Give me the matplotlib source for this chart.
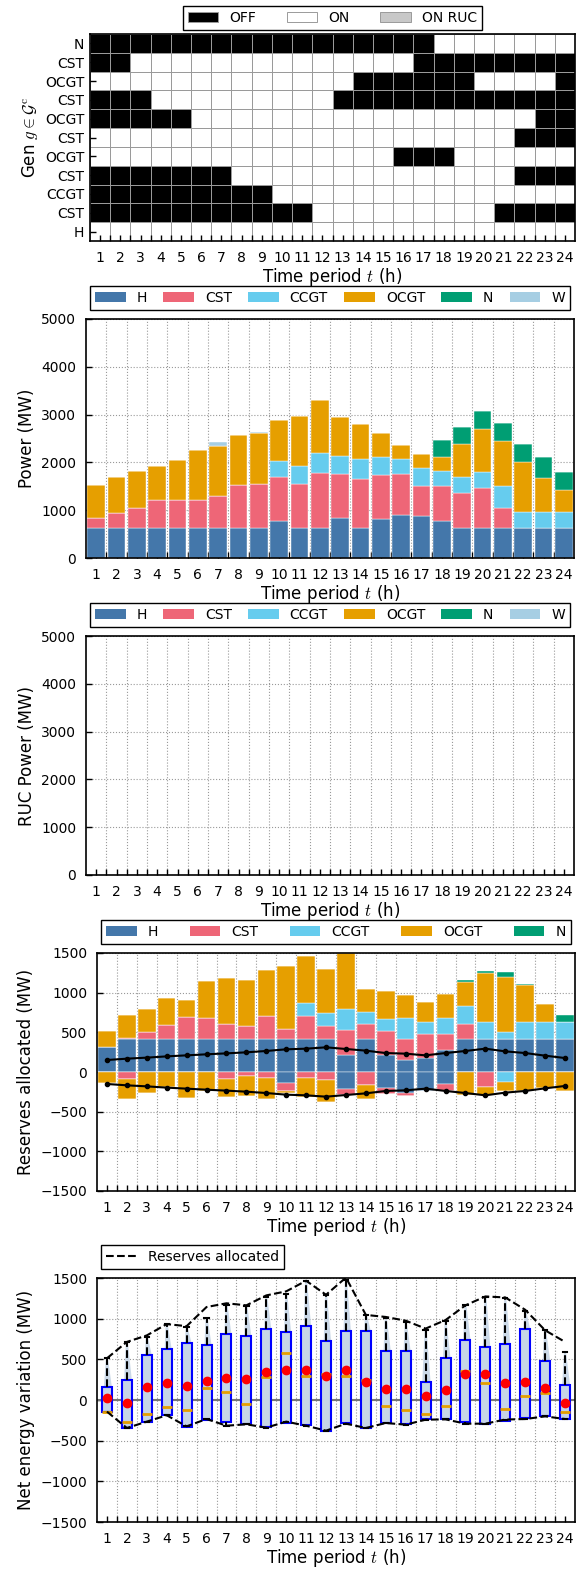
import numpy as np
import matplotlib
matplotlib.use('Agg')
import matplotlib.pyplot as plt
from matplotlib.colors import ListedColormap
from matplotlib.patches import Patch, Polygon
from matplotlib.lines import Line2D

plt.rcParams['font.family'] = ['DejaVu Sans']
plt.rcParams['mathtext.fontset'] = 'cm'
plt.rcParams['font.size'] = 10

periods = list(range(1, 25))

# ---------------- unit commitment status (1 = ON, 0 = OFF, 2 = ON RUC) ----------------
gen_labels = ['N', 'CST', 'OCGT', 'CST', 'OCGT', 'CST', 'OCGT', 'CST', 'CCGT', 'CST', 'H']
gen_status = [
    "000000000000000001111111",
    "001111111111111100000000",
    "111111111111100000011110",
    "000111111111000000000000",
    "000001111111111111111100",
    "111111111111111111111000",
    "111111111111111000111111",
    "000000011111111111111000",
    "000000000111111111111111",
    "000000000001111111110000",
    "111111111111111111111111",
]
status_labels = ['OFF', 'ON', 'ON RUC']

# ---------------- dispatch (MW) ----------------
techs = ['H', 'CST', 'CCGT', 'OCGT', 'N', 'W']
tech_colors = ['#4477AA', '#EE6677', '#66CCEE', '#E69F00', '#009E73', '#A6CEE3']
p_H = [630, 630, 630, 630, 630, 630, 630, 630, 630, 776, 630, 630, 839, 630, 825, 895, 874, 776, 630, 630, 630, 630, 630, 630]
p_CST = [216, 314, 419, 587, 573, 587, 664, 887, 922, 923, 922, 1139, 923, 1020, 902, 853, 623, 721, 734, 832, 426, 0, 0, 0]
p_CCGT = [0, 0, 0, 0, 0, 0, 0, 0, 0, 322, 378, 427, 378, 427, 378, 322, 391, 328, 328, 335, 454, 328, 328, 328]
p_OCGT = [671, 755, 762, 699, 846, 1035, 1041, 1058, 1061, 861, 1042, 1110, 818, 722, 520, 296, 280, 287, 685, 911, 946, 1042, 720, 455]
p_N = [0, 0, 0, 0, 0, 0, 0, 0, 0, 0, 0, 0, 0, 0, 0, 0, 0, 355, 366, 368, 363, 390, 434, 391]
p_W = [0, 0, 0, 0, 0, 0, 90, 0, 32, 0, 0, 0, 0, 0, 0, 0, 0, 0, 0, 0, 0, 0, 0, 0]

# ---------------- reserves allocated (MW) ----------------
ru_H = [311, 412, 412, 412, 412, 412, 412, 412, 412, 412, 412, 412, 210, 412, 218, 151, 176, 277, 412, 412, 412, 412, 412, 412]
ru_CST = [0, 17, 92, 180, 281, 269, 197, 172, 294, 126, 294, 172, 319, 189, 299, 261, 299, 202, 197, 0, 0, 0, 0, 0]
ru_CCGT = [0, 0, 0, 0, 0, 0, 0, 0, 0, 0, 160, 164, 265, 155, 155, 273, 155, 206, 219, 218, 92, 218, 218, 218]
ru_OCGT = [202, 285, 290, 341, 215, 462, 580, 580, 580, 798, 600, 546, 711, 290, 349, 290, 248, 298, 306, 618, 693, 467, 227, 0]
ru_N = [0, 0, 0, 0, 0, 0, 0, 0, 0, 0, 0, 0, 0, 0, 0, 0, 0, 0, 30, 25, 64, 12, 0, 84]

rd_H = [0, 0, 0, 0, 0, 0, 0, 0, 0, -143, 0, 0, -209, 0, -201, -266, -242, -152, 0, 0, 0, 0, 0, 0]
rd_CST = [0, -92, 0, 0, 0, 0, -84, -50, -80, -99, -80, -97, -82, -160, -82, -37, 0, -86, 0, -195, 0, 0, 0, 0]
rd_CCGT = [0, 0, 0, 0, 0, 0, 0, 0, 0, 0, 0, 0, 0, 0, 0, 0, 0, 0, 0, 0, -120, 0, 0, 0]
rd_OCGT = [-143, -252, -266, -188, -324, -234, -232, -249, -260, -24, -236, -280, 0, -184, 0, 0, 0, 0, -291, -96, -120, -234, -201, -234]
rd_N = [0] * 24

res_req_up = [151, 168, 181, 197, 210, 223, 235, 248, 265, 286, 294, 311, 290, 269, 239, 231, 210, 239, 265, 294, 260, 239, 206, 176]
res_req_dn = [-v for v in res_req_up]

# ---------------- net energy variation statistics (MW) ----------------
nev_q1 = [-148, -344, -275, -187, -328, -242, -266, -295, -334, -278, -313, -383, -279, -344, -279, -299, -232, -232, -266, -289, -258, -227, -195, -236]
nev_q3 = [155, 245, 553, 627, 697, 680, 812, 786, 878, 831, 913, 730, 843, 843, 606, 602, 218, 512, 741, 647, 692, 871, 484, 190]
nev_med = [-145, -270, -166, -86, -123, 144, 95, -49, 284, 574, 300, 324, 296, 251, -74, -119, -172, -78, 353, 210, -115, 49, 92, -148]
nev_mean = [20, -33, 164, 209, 166, 232, 270, 254, 348, 371, 363, 298, 373, 227, 137, 133, 55, 120, 316, 320, 214, 227, 149, -40]
nev_whishi = [512, 708, 778, 929, 900, 1010, 1173, 1153, 1267, 1308, 1459, 1296, 1480, 1051, 1014, 961, 863, 969, 1165, 1267, 1251, 1092, 859, 586]

# =========================================================================
W_PX, H_PX = 582, 1575
fig = plt.figure(figsize=(W_PX / 100, H_PX / 100), dpi=100)

LABEL_FS = 12


def px_axes(l, r, t, b):
    return fig.add_axes([l / W_PX, 1 - b / H_PX, (r - l) / W_PX, (b - t) / H_PX])


def style_axes(ax, grid=True):
    ax.tick_params(which='both', direction='in', top=False, right=False, labelsize=10, pad=7)
    ax.tick_params(which='major', length=4, width=1)
    ax.tick_params(which='minor', length=4, width=1)
    for s in ax.spines.values():
        s.set_linewidth(1.2)
    ax.set_xticks(periods)
    ax.set_xticks(np.arange(1.5, 24.5, 1.0), minor=True)
    ax.set_xlim(0.5, 24.5)
    if grid:
        ax.grid(which='major', axis='y', linestyle=':', color='#999999', linewidth=0.8)
        ax.grid(which='minor', axis='x', linestyle=':', color='#999999', linewidth=0.8)
        ax.set_axisbelow(True)
    ax.set_xlabel('Time period $t$ (h)', fontsize=LABEL_FS, labelpad=1)


leg_kw = dict(frameon=True, fancybox=False, edgecolor='black', framealpha=1, fontsize=10,
              borderaxespad=0.3, handlelength=2.2, handleheight=0.75, borderpad=0.35)

# ---------------- Panel 1: heatmap ----------------
ax1 = px_axes(90, 575, 34, 241)
Z = np.array([[int(c) for c in row] for row in gen_status])
cmap = ListedColormap(['black', 'white', '#c8c8c8'])
ax1.pcolormesh(np.arange(0.5, 25.5, 1.0), np.arange(-0.5, len(gen_labels), 1.0), Z,
               cmap=cmap, vmin=-0.5, vmax=2.5, edgecolors='#9a9a9a', linewidth=0.7)
ax1.set_ylim(len(gen_labels) - 0.5, -0.5)
ax1.set_yticks(range(len(gen_labels)))
ax1.set_yticklabels(gen_labels)
style_axes(ax1, grid=False)
ax1.tick_params(axis='y', pad=4)
ax1.set_ylabel(r'Gen $g \in \mathcal{G}^{\mathrm{c}}$', fontsize=LABEL_FS)
h1 = [Patch(facecolor=c, edgecolor='#9a9a9a', linewidth=0.7) for c in ['black', 'white', '#c8c8c8']]
ax1.legend(h1, status_labels, ncol=3, loc='lower center', bbox_to_anchor=(0.5, 1.0),
           columnspacing=2.2, **leg_kw)

# ---------------- Panel 2 & 3: power ----------------
power_series = [p_H, p_CST, p_CCGT, p_OCGT, p_N, p_W]


def power_legend(ax, n):
    hh = [Patch(facecolor=tech_colors[i]) for i in range(n)]
    ax.legend(hh, techs[:n], ncol=n, loc='lower left', bbox_to_anchor=(0, 1.02, 1, 0.1),
              mode='expand', **leg_kw)


ax2 = px_axes(86, 574, 319, 558)
bottom = np.zeros(24)
for vals, col in zip(power_series, tech_colors):
    ax2.bar(periods, vals, bottom=bottom, width=0.88, color=col, edgecolor='white', linewidth=0.3)
    bottom += np.array(vals)
ax2.set_ylim(0, 5000)
ax2.set_yticks(range(0, 5001, 1000))
style_axes(ax2)
ax2.set_ylabel('Power (MW)', fontsize=LABEL_FS)
power_legend(ax2, 6)

ax3 = px_axes(86, 574, 636, 875)
ax3.set_ylim(0, 5000)
ax3.set_yticks(range(0, 5001, 1000))
style_axes(ax3)
ax3.set_ylabel('RUC Power (MW)', fontsize=LABEL_FS)
power_legend(ax3, 6)

# ---------------- Panel 4: reserves ----------------
ax4 = px_axes(97, 575, 953, 1191)
up_series = [ru_H, ru_CST, ru_CCGT, ru_OCGT, ru_N]
dn_series = [rd_H, rd_CST, rd_CCGT, rd_OCGT, rd_N]
bu = np.zeros(24)
bd = np.zeros(24)
for up, dn, col in zip(up_series, dn_series, tech_colors):
    ax4.bar(periods, up, bottom=bu, width=0.88, color=col, edgecolor='white', linewidth=0.3)
    ax4.bar(periods, dn, bottom=bd, width=0.88, color=col, edgecolor='white', linewidth=0.3)
    bu += np.array(up)
    bd += np.array(dn)
ax4.plot(periods, res_req_up, color='black', linewidth=1.5, marker='o', markersize=3)
ax4.plot(periods, res_req_dn, color='black', linewidth=1.5, marker='o', markersize=3)
ax4.set_ylim(-1500, 1500)
ax4.set_yticks(range(-1500, 1501, 500))
style_axes(ax4)
ax4.set_ylabel('Reserves allocated (MW)', fontsize=LABEL_FS)
power_legend(ax4, 5)
up_total = bu.copy()
dn_total = bd.copy()

# ---------------- Panel 5: net energy variation ----------------
ax5 = px_axes(97, 575, 1278, 1522)
ax5.axhline(0, color='#777777', linewidth=1.5, zorder=1)
for t, q1, q3, wh in zip(periods, nev_q1, nev_q3, nev_whishi):
    poly = Polygon([(t - 0.25, q1), (t + 0.25, q1), (t + 0.25, q3), (t + 0.05, wh), (t - 0.05, wh)],
                   closed=True, facecolor='#c6d5e6', edgecolor='none', alpha=0.9, zorder=1.5)
    ax5.add_patch(poly)
stats = []
for i in range(24):
    stats.append(dict(med=nev_med[i], q1=nev_q1[i], q3=nev_q3[i], whislo=dn_total[i],
                      whishi=nev_whishi[i], mean=nev_mean[i], fliers=[]))
ax5.bxp(stats, positions=periods, widths=0.5, showmeans=True, patch_artist=True,
        capwidths=0.22, manage_ticks=False,
        boxprops=dict(facecolor='#c6d5e6', edgecolor='#0000ff', linewidth=1.5),
        whiskerprops=dict(color='black', linestyle='--', linewidth=1.5),
        capprops=dict(color='black', linewidth=1.5),
        medianprops=dict(color='#E69F00', linewidth=2),
        meanprops=dict(marker='o', markerfacecolor='red', markeredgecolor='red', markersize=6))
ax5.plot(periods, up_total, color='black', linestyle='--', linewidth=1.5, label='Reserves allocated', zorder=3)
ax5.plot(periods, dn_total, color='black', linestyle='--', linewidth=1.5, zorder=3)
ax5.set_ylim(-1500, 1500)
ax5.set_yticks(range(-1500, 1501, 500))
style_axes(ax5)
ax5.set_ylabel('Net energy variation (MW)', fontsize=LABEL_FS)
ax5.legend(handles=[Line2D([0], [0], color='black', linestyle='--', linewidth=1.5)],
           labels=['Reserves allocated'], loc='lower left', bbox_to_anchor=(0, 1.02), **leg_kw)

fig.savefig('out.png', dpi=100)
